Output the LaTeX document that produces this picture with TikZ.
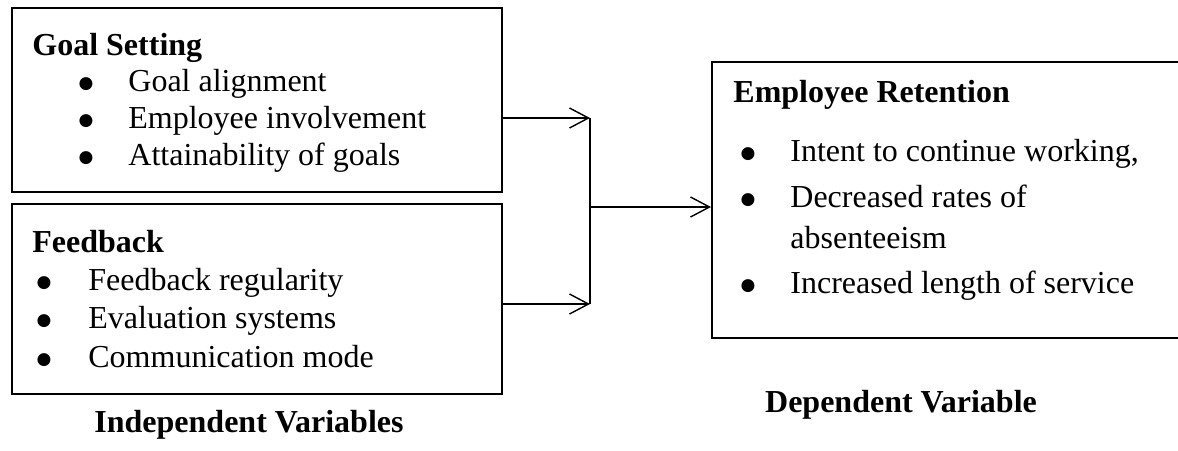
\documentclass[tikz,border=0pt]{standalone}
\usepackage{fontspec}
\setmainfont{Liberation Serif}
\newfontfamily\bulfont{DejaVu Sans}
\usetikzlibrary{arrows.meta}
\begin{document}
\begin{tikzpicture}[x=0.5pt,y=-0.5pt,
  box/.style={draw, line width=1pt, inner sep=0pt},
  txt/.style={anchor=base west, inner sep=0pt, font=\fontsize{16pt}{18pt}\selectfont},
  ttl/.style={txt, font=\fontsize{16pt}{18pt}\selectfont\bfseries},
  bul/.style={anchor=base, inner sep=0pt, yshift=1.5pt, font=\bulfont\fontsize{8.5pt}{10pt}\selectfont},
  lbl/.style={anchor=base, inner sep=0pt, font=\fontsize{16pt}{18pt}\selectfont\bfseries},
  conn/.style={line width=0.7pt},
  arr/.style={conn, -{Straight Barb[length=9.5pt,width=10pt,line width=0.7pt]}}]
\useasboundingbox (0,0) rectangle (1178,450);
% boxes
\node[box, minimum width=245pt, minimum height=92pt] (box1) at (257,100) {};
\node[box, minimum width=245pt, minimum height=95pt] (box2) at (257,299) {};
\node[box, minimum width=239pt, minimum height=138pt] (box3) at (951,200) {};
% box 1 text
\node[ttl] (t1) at (32,55) {Goal Setting};
\node[bul] (b11) at (86,91) {●};
\node[txt] (i11) at (128,91) {Goal alignment};
\node[bul] (b12) at (86,128) {●};
\node[txt] (i12) at (128,128) {Employee involvement};
\node[bul] (b13) at (86,165) {●};
\node[txt] (i13) at (128,165) {Attainability of goals};
% box 2 text
\node[ttl] (t2) at (32,252) {Feedback};
\node[bul] (b21) at (44,290) {●};
\node[txt] (i21) at (88,290) {Feedback regularity};
\node[bul] (b22) at (44,328) {●};
\node[txt] (i22) at (88,328) {Evaluation systems};
\node[bul] (b23) at (44,367) {●};
\node[txt] (i23) at (88,367) {Communication mode};
% box 3 text
\node[ttl] (t3) at (733,102) {Employee Retention};
\node[bul] (b31) at (748,161) {●};
\node[txt] (i31) at (790,161) {Intent to continue working,};
\node[bul] (b32) at (748,207) {●};
\node[txt] (i32) at (790,207) {Decreased rates of};
\node[txt] (i32b) at (790,248) {absenteeism};
\node[bul] (b33) at (748,293) {●};
\node[txt] (i33) at (790,293) {Increased length of service};
% labels
\node[lbl] (l1) at (249,432) {Independent Variables};
\node[lbl] (l2) at (901,412) {Dependent Variable};
% connectors
\coordinate (j1) at (590,118);
\coordinate (j2) at (590,304);
\coordinate (jm) at (590,207);
\draw[arr] (box1.east |- j1) -- (j1);
\draw[arr] (box2.east |- j2) -- (j2);
\draw[conn] (j1) -- (j2);
\draw[arr] (jm) -- (jm -| box3.west);
\end{tikzpicture}
\end{document}
